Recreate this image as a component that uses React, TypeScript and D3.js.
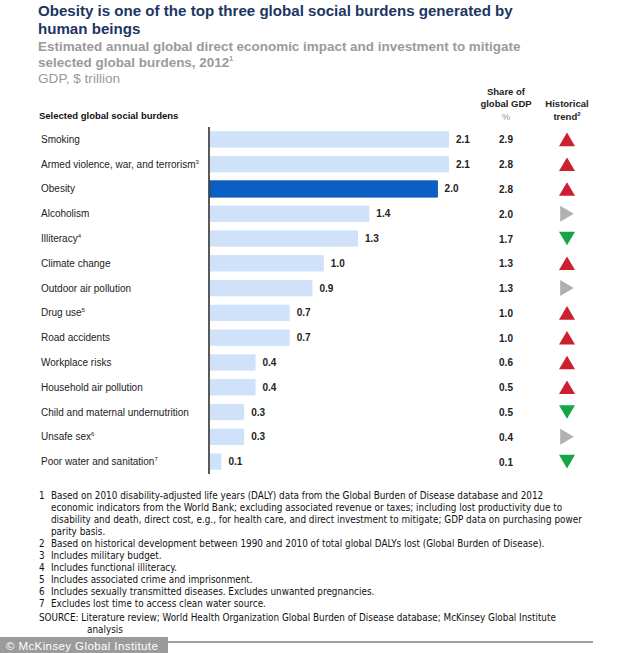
import * as d3 from "d3";

const burdens = [
  "Smoking",
  "Armed violence, war, and terrorism",
  "Obesity",
  "Alcoholism",
  "Illiteracy",
  "Climate change",
  "Outdoor air pollution",
  "Drug use",
  "Road accidents",
  "Workplace risks",
  "Household air pollution",
  "Child and maternal undernutrition",
  "Unsafe sex",
  "Poor water and sanitation",
];
const notes = ["", "3", "", "", "4", "", "", "5", "", "", "", "", "6", "7"];
const impact = [2.1, 2.1, 2.0, 1.4, 1.3, 1.0, 0.9, 0.7, 0.7, 0.4, 0.4, 0.3, 0.3, 0.1];
const gdpShare = [2.9, 2.8, 2.8, 2.0, 1.7, 1.3, 1.3, 1.0, 1.0, 0.6, 0.5, 0.5, 0.4, 0.1];
const trend = ["up", "up", "up", "flat", "down", "up", "flat", "up", "up", "up", "up", "down", "flat", "down"];

const footnotes = [
  ["1", "Based on 2010 disability-adjusted life years (DALY) data from the Global Burden of Disease database and 2012"],
  ["", "economic indicators from the World Bank; excluding associated revenue or taxes; including lost productivity due to"],
  ["", "disability and death, direct cost, e.g., for health care, and direct investment to mitigate; GDP data on purchasing power"],
  ["", "parity basis."],
  ["2", "Based on historical development between 1990 and 2010 of total global DALYs lost (Global Burden of Disease)."],
  ["3", "Includes military budget."],
  ["4", "Includes functional illiteracy."],
  ["5", "Includes associated crime and imprisonment."],
  ["6", "Includes sexually transmitted diseases. Excludes unwanted pregnancies."],
  ["7", "Excludes lost time to access clean water source."],
];

const W = 634;
const H = 653;
const font = "'Liberation Sans', Arial, sans-serif";
const narrow = "'Liberation Sans Narrow', 'Arial Narrow', 'DejaVu Sans Condensed', sans-serif";

export default function App() {
  const axisX = 209;
  const x = d3.scaleLinear().domain([0, 2.1]).range([axisX + 1, axisX + 240]);
  const y = d3
    .scaleBand()
    .domain(burdens)
    .range([127, 474])
    .paddingInner(0.34)
    .paddingOuter(0.17);
  const bh = y.bandwidth();
  const shareX = 506;
  const trendX = 567;

  const tri = (kind: string, cx: number, cy: number) => {
    const s = 8;
    if (kind === "up")
      return { d: `M${cx - s},${cy + s * 0.85}L${cx + s},${cy + s * 0.85}L${cx},${cy - s * 0.85}Z`, fill: "#cc1f2f" };
    if (kind === "down")
      return { d: `M${cx - s},${cy - s * 0.85}L${cx + s},${cy - s * 0.85}L${cx},${cy + s * 0.85}Z`, fill: "#15a546" };
    return { d: `M${cx - s * 0.85},${cy - s}L${cx - s * 0.85},${cy + s}L${cx + s * 0.85},${cy}Z`, fill: "#b0b0b0" };
  };

  return (
    <svg width={W} height={H} style={{ position: "absolute", left: 0, top: 0 }} fontFamily={font}>
      <rect width={W} height={H} fill="#fff" />
      <text x={38} y={16} fontSize={15.1} fontWeight="bold" fill="#1c3664">
        Obesity is one of the top three global social burdens generated by
      </text>
      <text x={38} y={34} fontSize={15.1} fontWeight="bold" fill="#1c3664">
        human beings
      </text>
      <text x={38} y={51} fontSize={13.45} fontWeight="bold" fill="#9a9a9a">
        Estimated annual global direct economic impact and investment to mitigate
      </text>
      <text x={38} y={67} fontSize={13.45} fontWeight="bold" fill="#9a9a9a">
        selected global burdens, 2012
        <tspan fontSize={7} dy={-6}>1</tspan>
      </text>
      <text x={38} y={83} fontSize={13.6} fill="#9a9a9a">
        GDP, $ trillion
      </text>

      <text x={39} y={119} fontSize={9.5} fontWeight="bold" fill="#111">
        Selected global social burdens
      </text>
      <g fontSize={9.5} fontWeight="bold" fill="#222" textAnchor="middle">
        <text x={shareX} y={95}>Share of</text>
        <text x={shareX} y={107}>global GDP</text>
        <text x={shareX} y={120} fill="#999" fontWeight="normal">%</text>
        <text x={trendX} y={107}>Historical</text>
        <text x={trendX} y={120}>
          trend<tspan fontSize={6} dy={-4}>2</tspan>
        </text>
      </g>

      {burdens.map((b, i) => {
        const cy = (y(b) as number) + bh / 2;
        const t = tri(trend[i], trendX, cy);
        const hi = b === "Obesity";
        return (
          <g key={b}>
            <text x={41} y={cy + 3.5} fontSize={10} fill="#222">
              {b}
              {notes[i] && <tspan fontSize={6} dy={-4}>{notes[i]}</tspan>}
            </text>
            <rect
              x={x(0)}
              y={y(b)}
              width={x(impact[i]) - x(0)}
              height={bh}
              fill={hi ? "#0b5fc4" : "#cfe2fa"}
              stroke={hi ? "#0a4fa6" : "none"}
              strokeWidth={0.7}
            />
            <text x={x(impact[i]) + 7} y={cy + 3.5} fontSize={10} fontWeight="bold" fill="#222">
              {impact[i].toFixed(1)}
            </text>
            <text x={shareX} y={cy + 4} fontSize={10} fontWeight="bold" fill="#222" textAnchor="middle">
              {gdpShare[i].toFixed(1)}
            </text>
            <path d={t.d} fill={t.fill} />
          </g>
        );
      })}
      <line x1={axisX} x2={axisX} y1={127} y2={474} stroke="#000" strokeWidth={1.3} />

      <g fontSize={9.85} fill="#111" fontFamily={narrow}>
        {footnotes.map(([n, t], i) => (
          <g key={i}>
            <text x={39} y={499 + i * 12.05}>{n}</text>
            <text x={51} y={499 + i * 12.05}>{t}</text>
          </g>
        ))}
        <text x={39} y={620.5}>SOURCE: Literature review; World Health Organization Global Burden of Disease database; McKinsey Global Institute</text>
        <text x={87} y={633}>analysis</text>
      </g>
      <line x1={0} x2={593} y1={642} y2={642} stroke="#444" strokeWidth={1} />
      <rect x={0} y={637} width={168} height={16} fill="#9b9b9b" />
      <text x={6} y={649.5} fontSize={11.5} letterSpacing={0.4} fill="#fff">© McKinsey Global Institute</text>
    </svg>
  );
}
